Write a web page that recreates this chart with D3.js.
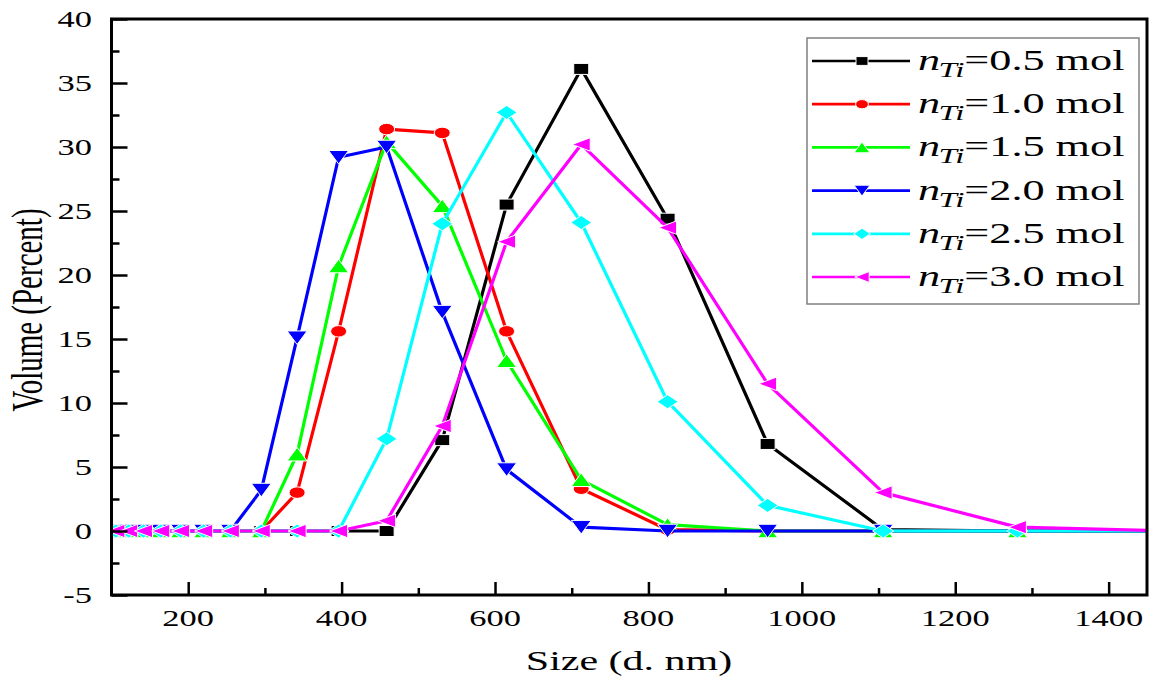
<!DOCTYPE html>
<html>
<head>
<meta charset="utf-8">
<script src="https://cdn.jsdelivr.net/npm/d3@7"></script>
<style>
  html, body { margin: 0; padding: 0; background: #fff; }
  svg { display: block; }
  text { font-family: "Liberation Serif", "Times New Roman", serif; fill: #000; }
</style>
</head>
<body>
<svg id="chart" width="1149" height="683"></svg>
<script>
// ---- data ----
const sizes = [105.7, 122.4, 141.8, 164.2, 190.1, 220.2, 255.0, 295.3, 342.0, 396.1, 458.7, 531.2, 615.1, 712.4, 825.0, 955.4, 1106, 1281, 1484];
const seriesNames = ["0.5", "1.0", "1.5", "2.0", "2.5", "3.0"];
const vol05 = [0,0,0,0,0,0,0,0,0,0,0,7.1,25.5,36.1,24.4,6.8,0.1,0,0];
const vol10 = [0,0,0,0,0,0,0,0,3.0,15.6,31.4,31.1,15.6,3.3,0.1,0,0,0,0];
const vol15 = [0,0,0,0,0,0,0,0,6.0,20.7,30.4,25.4,13.3,4.0,0.5,0,0,0,0];
const vol20 = [0,0,0,0,0,0,0,3.2,15.1,29.2,30.0,17.1,4.8,0.3,0,0,0,0,0];
const vol25 = [0,0,0,0,0,0,0,0,0,0,7.2,24.0,32.7,24.1,10.1,2.0,0,0,0];
const vol30 = [0,0,0,0,0,0,0,0,0,0,0.8,8.2,22.6,30.2,23.7,11.5,3.0,0.3,0];
const xMajorTicks = [200, 400, 600, 800, 1000, 1200, 1400];
const xMinorTicks = [300, 500, 700, 900, 1100, 1300];
const yMajorTicks = [-5, 0, 5, 10, 15, 20, 25, 30, 35, 40];
const yMinorTicks = [-2.5, 2.5, 7.5, 12.5, 17.5, 22.5, 27.5, 32.5, 37.5];
const xTitle = "Size (d. nm)";
const yTitle = "Volume (Percent)";

// ---- styles ----
const colors = ["#000000", "#ff0000", "#00ff00", "#0000ff", "#00ffff", "#ff00ff"];
const shapes = ["square", "circle", "up", "down", "diamond", "left"];
const markerSize = { square: [15, 11], circle: [16, 11.5], up: [20, 13.5], down: [20, 13.5], diamond: [21, 14], left: [18, 13.5] };
const allSeries = [vol05, vol10, vol15, vol20, vol25, vol30];

function markerPath(shape, w, h) {
  const a = w / 2, b = h / 2;
  switch (shape) {
    case "square": return `M${-a},${-b}H${a}V${b}H${-a}Z`;
    case "circle": return `M${-a},0A${a},${b} 0 1,0 ${a},0A${a},${b} 0 1,0 ${-a},0Z`;
    case "up": return `M0,${-b}L${a},${b}L${-a},${b}Z`;
    case "down": return `M0,${b}L${a},${-b}L${-a},${-b}Z`;
    case "diamond": return `M0,${-b}L${a},0L0,${b}L${-a},0Z`;
    case "left": return `M${-a},0L${a},${-b}L${a},${b}Z`;
  }
}

const svg = d3.select("#chart");
const L = 111.5, R = 1147, T = 19, B = 595;
const x = d3.scaleLinear().domain([100, 1450]).range([L, R]);
const y = d3.scaleLinear().domain([-5, 40]).range([B, T]);
const SX = 1.5; // horizontal stretch of glyphs

svg.append("defs").append("clipPath").attr("id", "plotclip")
  .append("rect").attr("x", L).attr("y", T).attr("width", R - L).attr("height", B - T);

// ---- series ----
const plot = svg.append("g").attr("clip-path", "url(#plotclip)");
const line = d3.line().x(d => x(d[0])).y(d => y(d[1]));
allSeries.forEach((vals, i) => {
  const pts = sizes.map((s, k) => [s, vals[k]]);
  const g = plot.append("g");
  g.append("path").attr("d", line(pts)).attr("fill", "none")
    .attr("stroke", colors[i]).attr("stroke-width", 3.2).attr("stroke-linejoin", "round");
  const [w, h] = markerSize[shapes[i]];
  g.selectAll("path.m").data(pts).enter().append("path").attr("class", "m")
    .attr("d", markerPath(shapes[i], w, h))
    .attr("transform", d => `translate(${x(d[0])},${y(d[1])})`)
    .attr("fill", colors[i]).attr("stroke", "#fff").attr("stroke-width", 1);
});

// ---- axes ----
const ax = svg.append("g");
const xMajor = d3.axisBottom(x).tickValues(xMajorTicks).tickSize(-13).tickFormat("");
const xMinor = d3.axisBottom(x).tickValues(xMinorTicks).tickSize(-7).tickFormat("");
const yMajor = d3.axisLeft(y).tickValues(yMajorTicks).tickSize(-16).tickFormat("");
const yMinor = d3.axisLeft(y).tickValues(yMinorTicks).tickSize(-8).tickFormat("");
[ [xMajor, `translate(0,${B})`], [xMinor, `translate(0,${B})`], [yMajor, `translate(${L},0)`], [yMinor, `translate(${L},0)`] ]
  .forEach(([a, tr]) => {
    const g = ax.append("g").attr("transform", tr).call(a);
    g.select(".domain").remove();
    g.selectAll("line").attr("stroke", "#000").attr("stroke-width", 2.5);
  });
ax.append("rect").attr("x", L).attr("y", T).attr("width", R - L).attr("height", B - T)
  .attr("fill", "none").attr("stroke", "#000").attr("stroke-width", 3);

xMajorTicks.forEach(v => {
  ax.append("text").attr("transform", `translate(${x(v)},626) scale(${SX},1)`)
    .attr("text-anchor", "middle").attr("font-size", 23).text(v);
});
yMajorTicks.forEach(v => {
  ax.append("text").attr("transform", `translate(92,${y(v) + 8}) scale(${SX},1)`)
    .attr("text-anchor", "end").attr("font-size", 23).text(v);
});

svg.append("text").attr("transform", `translate(629,670) scale(${SX},1)`)
  .attr("text-anchor", "middle").attr("font-size", 28).text(xTitle);
svg.append("text").attr("transform", `translate(42,310) scale(${SX},1) rotate(-90)`)
  .attr("text-anchor", "middle").attr("font-size", 29).text(yTitle);

// ---- legend ----
const leg = svg.append("g");
leg.append("rect").attr("x", 807).attr("y", 38).attr("width", 332).attr("height", 266)
  .attr("fill", "#fff").attr("stroke", "#808080").attr("stroke-width", 1.5);
const rowY = d3.scaleLinear().domain([0, 5]).range([61, 277]);
seriesNames.forEach((nm, i) => {
  const cy = rowY(i);
  leg.append("line").attr("x1", 812).attr("x2", 910).attr("y1", cy).attr("y2", cy)
    .attr("stroke", colors[i]).attr("stroke-width", 2.7);
  const [w, h] = markerSize[shapes[i]];
  leg.append("path").attr("d", markerPath(shapes[i], w * 0.8, h * 0.8))
    .attr("transform", `translate(862,${cy})`).attr("fill", colors[i])
    .attr("stroke", "#fff").attr("stroke-width", 1);
  const t = leg.append("text").attr("transform", `translate(918,${cy + 9}) scale(${SX},1)`)
    .attr("font-size", 29.5);
  t.append("tspan").attr("font-style", "italic").text("n");
  t.append("tspan").attr("font-style", "italic").attr("font-size", 22).attr("dy", 7).attr("dx", -1).text("Ti");
  t.append("tspan").attr("dy", -7).text("=" + nm + " mol");
});
</script>
</body>
</html>
